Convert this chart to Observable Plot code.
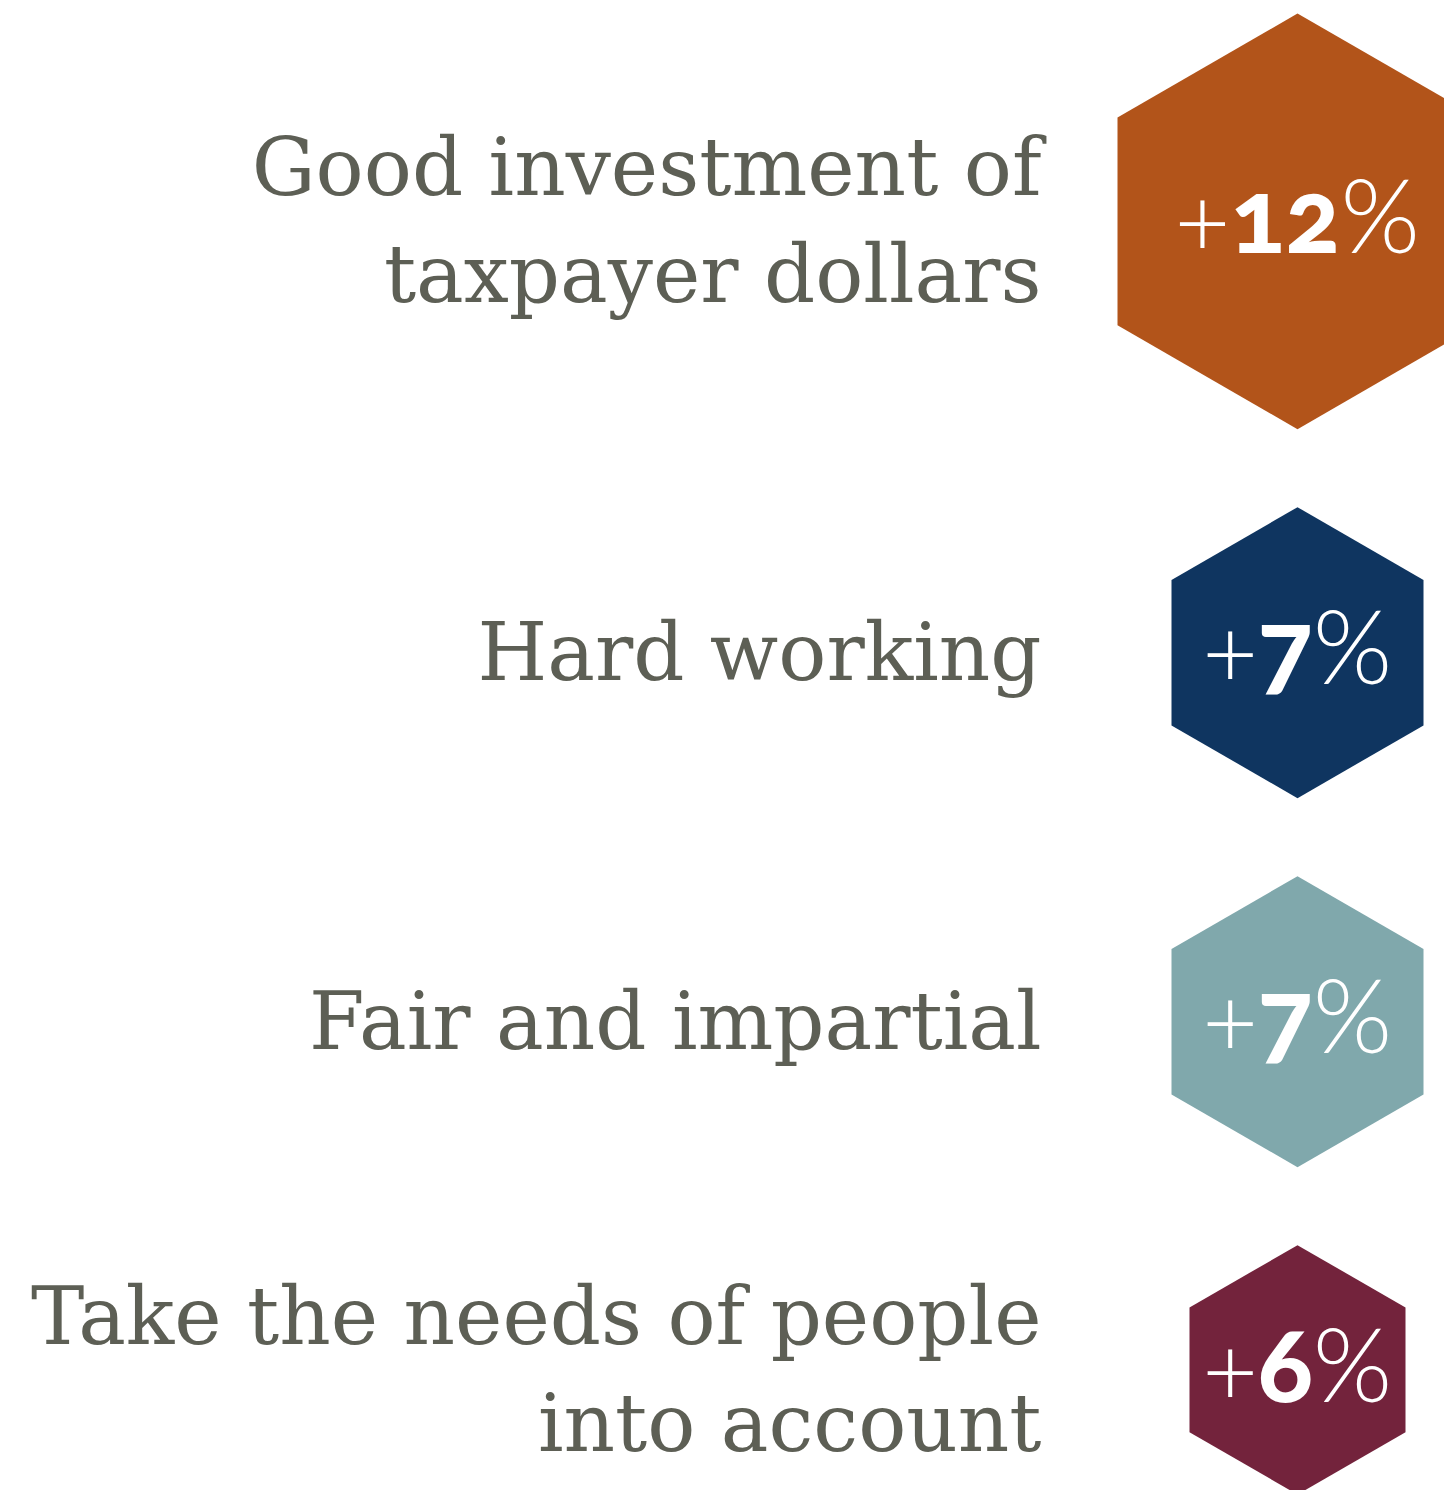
<!DOCTYPE html>
<html>
<head>
<meta charset="utf-8">
<script src="https://cdn.jsdelivr.net/npm/d3@7"></script>
<script src="https://cdn.jsdelivr.net/npm/@observablehq/plot@0.6"></script>
<style>
  html, body { margin: 0; padding: 0; background: #fff; overflow: hidden; }
</style>
</head>
<body>
<div id="chart"></div>
<script>
// ---- data ----
const categories = [
  "Good investment of\ntaxpayer dollars",
  "Hard working",
  "Fair and impartial",
  "Take the needs of people\ninto account"
];
const values = [12, 7, 7, 6];
const valueLabels = ["+12%", "+7%", "+7%", "+6%"];
const colors = ["#B2541A", "#0F3560", "#80A8AC", "#73233C"];

// ---- layout ----
const W = 1444, H = 1490;
const rOptions = {type: "linear", domain: [6, 7, 12], range: [108, 126, 180]};
const rScale = Plot.scale({r: rOptions});
const k = 2 / Math.sqrt(3); // half-width -> circumradius of pointy-top hexagon
const topPad = 13, gap = 78;
let cursor = topPad;
const rows = categories.map((c, i) => {
  const R = rScale.apply(values[i]) * k;
  const y = cursor + R;
  cursor = y + R + gap;
  return {category: c, value: values[i], label: valueLabels[i], color: colors[i], y};
});

const chart = Plot.plot({
  width: W,
  height: H,
  margin: 0,
  x: {type: "point", domain: ["label", "value"], range: [1041, 1297], padding: 0, axis: null},
  y: {type: "linear", domain: [0, H], range: [0, H], axis: null},
  r: rOptions,
  color: {type: "identity"},
  marks: [
    Plot.dot(rows, {x: () => "value", y: "y", r: "value", fill: "color", symbol: "hexagon"}),
    Plot.text(rows, {
      x: () => "label", y: "y", text: "category",
      textAnchor: "end", lineAnchor: "middle", lineHeight: 1.34,
      fontSize: 80, fontFamily: "DejaVu Serif", fill: "#5d5f55", dy: -7
    }),
    Plot.text(rows, {
      x: () => "value", y: "y", text: "label",
      textAnchor: "middle", lineAnchor: "middle",
      fontSize: 102, fontFamily: "Lato, 'Noto Sans', 'Open Sans', sans-serif",
      fill: "white", dy: -1
    })
  ]
});

// digits bold (old-style figures), + and % light
chart.querySelectorAll("text").forEach(t => {
  const s = t.textContent;
  if (!/%$/.test(s)) return;
  t.textContent = "";
  t.style.fontVariantNumeric = "oldstyle-nums";
  t.style.fontFeatureSettings = '"onum" 1';
  for (const ch of s) {
    const ts = document.createElementNS("http://www.w3.org/2000/svg", "tspan");
    ts.textContent = ch;
    ts.style.fontWeight = /[0-9]/.test(ch) ? "900" : "300";
    t.appendChild(ts);
  }
});

document.getElementById("chart").appendChild(chart);
</script>
</body>
</html>
